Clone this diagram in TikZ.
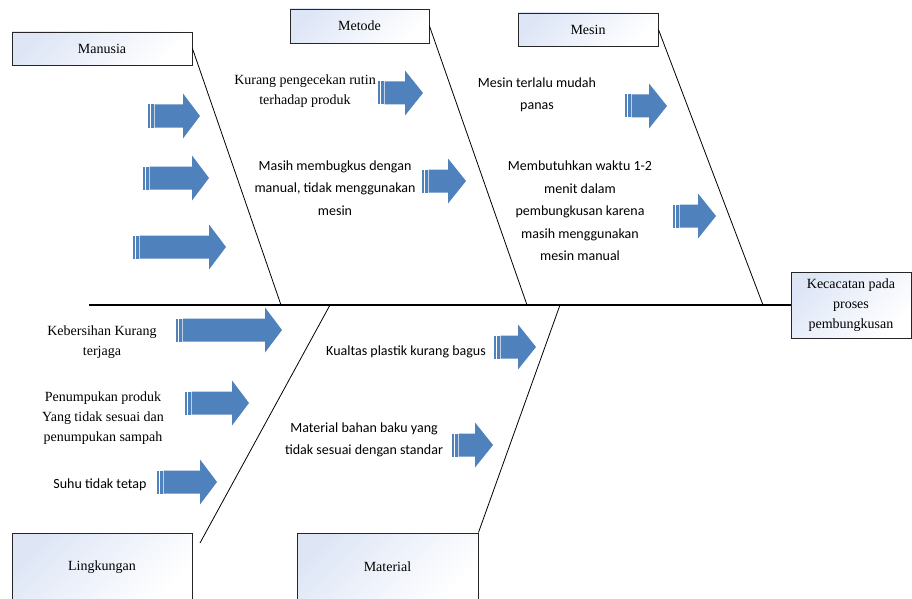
\documentclass[tikz,border=0pt]{standalone}
\usepackage{fontspec}
\setmainfont{Liberation Serif}
\newfontfamily\calib{Carlito}
\newfontfamily\tnr{Liberation Serif}
\definecolor{arrblue}{RGB}{79,129,189}
\definecolor{boxblue}{RGB}{222,230,246}
\tikzset{
  cause/.style={draw=black!85, line width=0.9pt, top color=boxblue, bottom color=white, shading angle=45, inner sep=0pt, align=center, font=\tnr\fontsize{14}{20}\selectfont},
  bone/.style={draw=black, line width=0.8pt},
  serift/.style={align=center, inner sep=0pt, font=\tnr\fontsize{14}{20}\selectfont},
  sanst/.style={align=center, inner sep=0pt, font=\calib\fontsize{14}{22.5}\selectfont},
  arr/.style={fill=arrblue}
}
\newcommand\stripearrow[4]{%
  \fill[arr] (#1+6.5,#3-11.5) -- (#2-#4,#3-11.5) -- (#2-#4,#3-22.5) -- (#2,#3) -- (#2-#4,#3+22.5) -- (#2-#4,#3+11.5) -- (#1+6.5,#3+11.5) -- cycle;
  \fill[arr] (#1,#3-11.5) rectangle (#1+1.5,#3+11.5);
  \fill[arr] (#1+2.5,#3-11.5) rectangle (#1+5.5,#3+11.5);}
\begin{document}
\begin{tikzpicture}[x=1pt,y=-1pt]
\useasboundingbox (0,0) rectangle (912,599);
\clip (0,0) rectangle (912,599);
\fill[white] (0,0) rectangle (912,599);

% boxes
\node[cause, minimum width=180pt, minimum height=33pt] (manusia) at (102,48.5) {Manusia};
\node[cause, minimum width=139pt, minimum height=34pt] (metode) at (359.5,26) {Metode};
\node[cause, minimum width=140pt, minimum height=33pt] (mesin) at (588,29.5) {Mesin};
\node[cause, minimum width=120pt, minimum height=66pt] (effect) at (851,305) {Kecacatan pada\\proses\\pembungkusan};
\node[cause, minimum width=180pt, minimum height=68pt] (lingkungan) at (102,567) {Lingkungan};
\node[cause, minimum width=181pt, minimum height=68pt] (material) at (387.5,567) {Material};

% spine and bones
\coordinate (sL) at (89,305);
\coordinate (j1) at (281,305);
\coordinate (j2) at (527,305);
\coordinate (j3) at (763,305);
\coordinate (j4) at (330,305);
\coordinate (j5) at (560,305);
\coordinate (lgEnd) at (200,543);
\draw[draw=black, line width=1.2pt] (sL) -- (effect.west);
\draw[bone] (manusia.east) -- (j1);
\draw[bone] (metode.east) -- (j2);
\draw[bone] (mesin.east) -- (j3);
\draw[bone] (lgEnd) -- (j4);
\draw[bone] (material.north east) -- (j5);

% arrows
\stripearrow{148}{200}{116}{17}
\stripearrow{143}{209}{178}{17}
\stripearrow{133}{226}{247}{17}
\stripearrow{378}{423}{93}{18}
\stripearrow{422}{466}{181}{18}
\stripearrow{625}{667}{106}{18}
\stripearrow{673}{716}{216}{18}
\stripearrow{176}{282}{330}{17}
\stripearrow{185}{249}{403}{17}
\stripearrow{157}{217}{482}{17}
\stripearrow{494}{536}{347}{18}
\stripearrow{452}{493}{445}{18}

% texts
\node[serift] (t1) at (305,91) {Kurang pengecekan rutin\\terhadap produk};
\node[sanst] (t2) at (335,188) {Masih membugkus dengan\\manual, tidak menggunakan\\mesin};
\node[sanst] (t3) at (537,95) {Mesin terlalu mudah\\panas};
\node[sanst] (t4) at (580,211) {Membutuhkan waktu 1-2\\menit dalam\\pembungkusan karena\\masih menggunakan\\mesin manual};
\node[serift] (t5) at (102,342) {Kebersihan Kurang\\terjaga};
\node[serift] (t6) at (103,418) {Penumpukan produk\\Yang tidak sesuai dan\\penumpukan sampah};
\node[sanst] (t7) at (100,485) {Suhu tidak tetap};
\node[sanst] (t8) at (406,352) {Kualtas plastik kurang bagus};
\node[sanst] (t9) at (364,440) {Material bahan baku yang\\tidak sesuai dengan standar};
\end{tikzpicture}
\end{document}
